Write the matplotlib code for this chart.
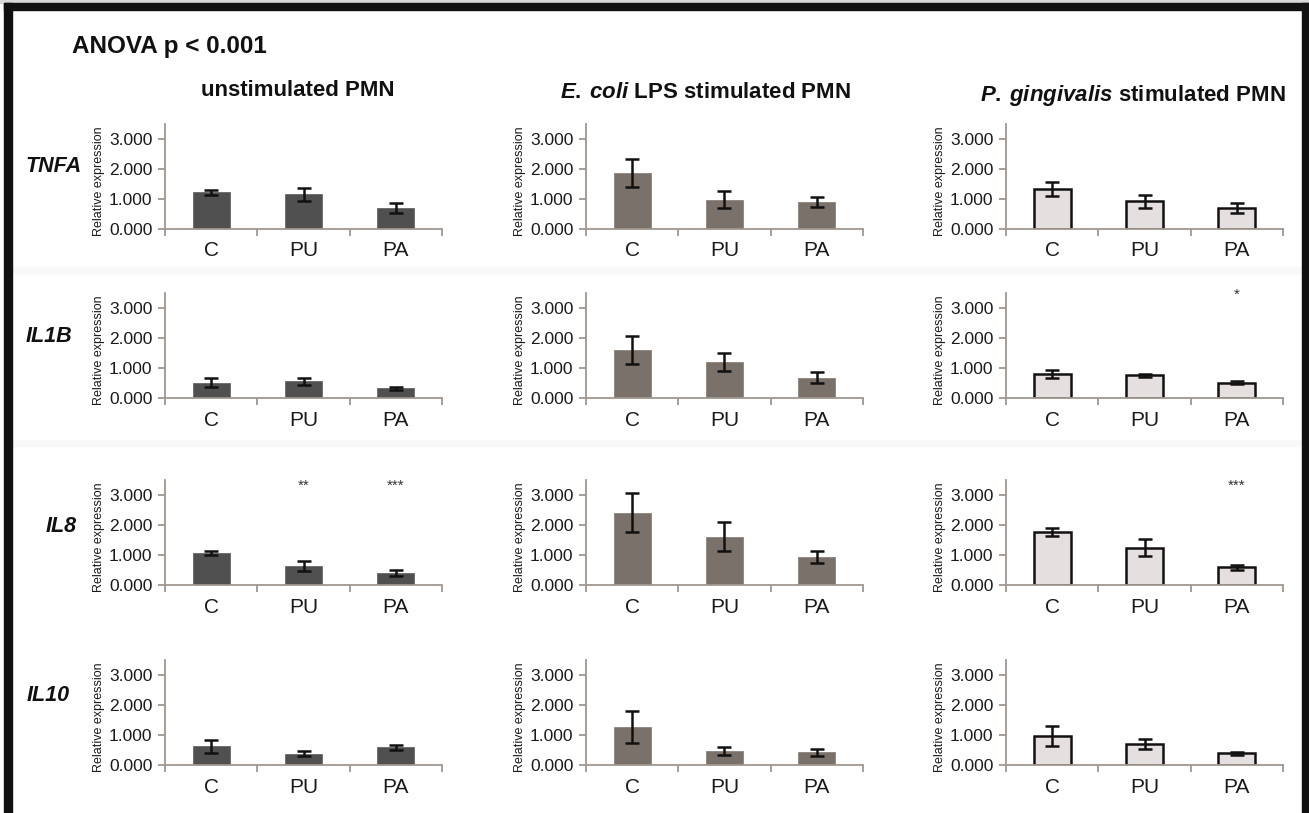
import numpy as np
import matplotlib
matplotlib.use('Agg')
import matplotlib.pyplot as plt
from matplotlib.patches import Rectangle

plt.rcParams['font.family'] = ['Liberation Sans', 'DejaVu Sans']
plt.rcParams['mathtext.fontset'] = 'custom'
plt.rcParams['mathtext.it'] = 'Liberation Sans:italic:bold'
plt.rcParams['mathtext.rm'] = 'Liberation Sans:bold'

# data
categories = ['C', 'PU', 'PA']
genes = ['TNFA', 'IL1B', 'IL8', 'IL10']
conditions = ['unstimulated PMN',
              r'$\mathit{E.\:coli}$ LPS stimulated PMN',
              r'$\mathit{P.\:gingivalis}$ stimulated PMN']

unstim_mean = [[1.22, 1.15, 0.70], [0.51, 0.55, 0.33], [1.06, 0.63, 0.39], [0.63, 0.38, 0.59]]
unstim_err = [[0.08, 0.22, 0.17], [0.15, 0.11, 0.05], [0.07, 0.16, 0.10], [0.22, 0.09, 0.08]]
ecoli_mean = [[1.86, 0.98, 0.91], [1.60, 1.21, 0.67], [2.41, 1.61, 0.92], [1.26, 0.47, 0.42]]
ecoli_err = [[0.46, 0.29, 0.17], [0.48, 0.30, 0.18], [0.64, 0.49, 0.20], [0.53, 0.13, 0.12]]
pg_mean = [[1.33, 0.92, 0.70], [0.81, 0.75, 0.51], [1.76, 1.24, 0.59], [0.97, 0.70, 0.39]]
pg_err = [[0.24, 0.21, 0.16], [0.13, 0.06, 0.05], [0.13, 0.28, 0.08], [0.34, 0.18, 0.05]]

# significance marks: (row, col, category) -> label
stars = {(1, 2, 2): '*', (2, 0, 1): '**', (2, 0, 2): '***', (2, 2, 2): '***'}

means = [unstim_mean, ecoli_mean, pg_mean]
errs = [unstim_err, ecoli_err, pg_err]
face = ['#505050', '#7b716b', '#e6dfdf']
edge = ['#5a5a5a', '#82786f', '#111111']
elw = [0.5, 0.5, 1.8]

W, H = 1309, 813
fig = plt.figure(figsize=(W / 100, H / 100), dpi=100)

col_left = [165, 586, 1006]
col_w = 277
row_zero = [229, 398, 585, 765]
ax_h = 105
axis_col = '#a0978f'

x = np.arange(len(categories))
for r in range(4):
    for c in range(3):
        ax = fig.add_axes([col_left[c] / W, 1 - row_zero[r] / H, col_w / W, ax_h / H])
        ax.bar(x, means[c][r], width=0.4, color=face[c], edgecolor=edge[c], linewidth=elw[c], zorder=2)
        ax.errorbar(x, means[c][r], yerr=errs[c][r], fmt='none', ecolor='#111111',
                    elinewidth=1.8, capsize=5, capthick=1.8, zorder=3)
        ax.set_xlim(-0.5, 2.5)
        ax.set_ylim(0, 3.5)
        for s in ['top', 'right']:
            ax.spines[s].set_visible(False)
        for s in ['left', 'bottom']:
            ax.spines[s].set_color(axis_col)
            ax.spines[s].set_linewidth(1.3)
        ax.set_yticks([0, 1, 2, 3])
        ax.set_yticklabels(['%.3f' % v for v in [0, 1, 2, 3]])
        ax.set_xticks([-0.5, 0.5, 1.5, 2.5])
        ax.set_xticklabels([])
        ax.set_xticks(x, minor=True)
        ax.set_xticklabels(categories, minor=True)
        ax.tick_params(axis='x', which='major', direction='out', length=5, width=1.3, color=axis_col)
        ax.tick_params(axis='x', which='minor', length=0, pad=9, labelsize=15, labelcolor='#1a1a1a')
        ax.tick_params(axis='y', direction='out', length=5, width=1.3, color=axis_col,
                       pad=4, labelsize=12.5, labelcolor='#1a1a1a')
        ax.set_ylabel('Relative expression', fontsize=9, color='#1a1a1a')
        ax.yaxis.set_label_coords(-0.215, 0.46)
        ax.patch.set_alpha(0)
        for (rr, cc, k), lab in stars.items():
            if rr == r and cc == c:
                ax.text(x[k], 3.3 if r == 2 else 3.45, lab, ha='center', va='center',
                        fontsize=11, color='#333333', clip_on=False)

# row labels
row_lab_x = [54, 49, 61, 48]
row_lab_y = [166, 337, 526, 695]
for g, lx, ly in zip(genes, row_lab_x, row_lab_y):
    fig.text(lx / W, 1 - ly / H, g, fontsize=15.5, fontweight='bold', fontstyle='italic',
             ha='center', va='center', color='#111111')

# column titles
title_x = [298, 705, 1133]
title_y = [91, 93, 95]
for t, tx, ty in zip(conditions, title_x, title_y):
    fig.text(tx / W, 1 - ty / H, t, fontsize=16, fontweight='bold', ha='center', va='center',
             color='#111111')

fig.text(72 / W, 1 - 47 / H, 'ANOVA p < 0.001', fontsize=17.5, fontweight='bold',
         ha='left', va='center', color='#111111')

# faint separators between rows
for sy in [270, 443]:
    fig.patches.append(Rectangle((12 / W, 1 - (sy + 3) / H), (1302 - 12) / W, 6 / H,
                                 transform=fig.transFigure, color='#f8f8f8', zorder=0))

# black frame (top, left, right)
fig.patches.append(Rectangle((0, 1 - 3 / H), 1, 3 / H, transform=fig.transFigure, color='#d8d8d8', zorder=5))
fig.patches.append(Rectangle((4 / W, 1 - 10 / H), 1 - 4 / W, 7 / H, transform=fig.transFigure, color='#111111', zorder=5))
fig.patches.append(Rectangle((4 / W, 0), 8 / W, 1 - 3 / H, transform=fig.transFigure, color='#111111', zorder=5))
fig.patches.append(Rectangle((1302 / W, 0), 7 / W, 1 - 3 / H, transform=fig.transFigure, color='#111111', zorder=5))

fig.savefig('out.png', dpi=100)
